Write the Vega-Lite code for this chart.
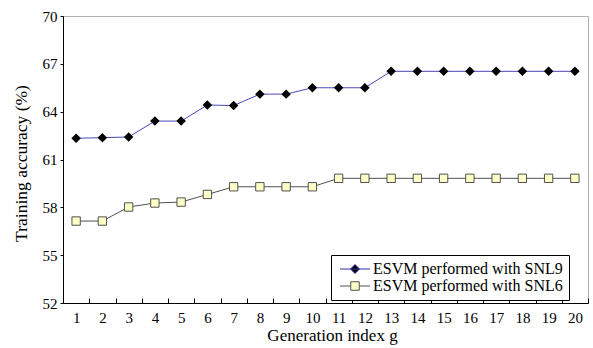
{
  "$schema": "https://vega.github.io/schema/vega-lite/v6.json",
  "width": 525,
  "height": 287,
  "autosize": "none",
  "padding": {"left": 63, "top": 16, "right": 5, "bottom": 45},
  "background": "white",
  "config": {
    "font": "Liberation Serif",
    "view": {"stroke": "#b0b0b0", "strokeWidth": 1},
    "axis": {"labelFont": "Liberation Serif", "titleFont": "Liberation Serif", "labelFontSize": 15, "titleFontSize": 17, "titleFontWeight": "normal", "labelColor": "black", "titleColor": "black", "domainColor": "black", "tickColor": "black", "grid": false}
  },
  "data": {"values": [
    {"g": 1, "acc": 62.33, "series": "ESVM performed with SNL9"},
    {"g": 2, "acc": 62.37, "series": "ESVM performed with SNL9"},
    {"g": 3, "acc": 62.41, "series": "ESVM performed with SNL9"},
    {"g": 4, "acc": 63.41, "series": "ESVM performed with SNL9"},
    {"g": 5, "acc": 63.41, "series": "ESVM performed with SNL9"},
    {"g": 6, "acc": 64.42, "series": "ESVM performed with SNL9"},
    {"g": 7, "acc": 64.38, "series": "ESVM performed with SNL9"},
    {"g": 8, "acc": 65.1, "series": "ESVM performed with SNL9"},
    {"g": 9, "acc": 65.1, "series": "ESVM performed with SNL9"},
    {"g": 10, "acc": 65.5, "series": "ESVM performed with SNL9"},
    {"g": 11, "acc": 65.5, "series": "ESVM performed with SNL9"},
    {"g": 12, "acc": 65.5, "series": "ESVM performed with SNL9"},
    {"g": 13, "acc": 66.53, "series": "ESVM performed with SNL9"},
    {"g": 14, "acc": 66.53, "series": "ESVM performed with SNL9"},
    {"g": 15, "acc": 66.53, "series": "ESVM performed with SNL9"},
    {"g": 16, "acc": 66.53, "series": "ESVM performed with SNL9"},
    {"g": 17, "acc": 66.53, "series": "ESVM performed with SNL9"},
    {"g": 18, "acc": 66.53, "series": "ESVM performed with SNL9"},
    {"g": 19, "acc": 66.53, "series": "ESVM performed with SNL9"},
    {"g": 20, "acc": 66.53, "series": "ESVM performed with SNL9"},
    {"g": 1, "acc": 57.14, "series": "ESVM performed with SNL6"},
    {"g": 2, "acc": 57.14, "series": "ESVM performed with SNL6"},
    {"g": 3, "acc": 58.02, "series": "ESVM performed with SNL6"},
    {"g": 4, "acc": 58.27, "series": "ESVM performed with SNL6"},
    {"g": 5, "acc": 58.33, "series": "ESVM performed with SNL6"},
    {"g": 6, "acc": 58.81, "series": "ESVM performed with SNL6"},
    {"g": 7, "acc": 59.29, "series": "ESVM performed with SNL6"},
    {"g": 8, "acc": 59.29, "series": "ESVM performed with SNL6"},
    {"g": 9, "acc": 59.29, "series": "ESVM performed with SNL6"},
    {"g": 10, "acc": 59.29, "series": "ESVM performed with SNL6"},
    {"g": 11, "acc": 59.82, "series": "ESVM performed with SNL6"},
    {"g": 12, "acc": 59.82, "series": "ESVM performed with SNL6"},
    {"g": 13, "acc": 59.82, "series": "ESVM performed with SNL6"},
    {"g": 14, "acc": 59.82, "series": "ESVM performed with SNL6"},
    {"g": 15, "acc": 59.82, "series": "ESVM performed with SNL6"},
    {"g": 16, "acc": 59.82, "series": "ESVM performed with SNL6"},
    {"g": 17, "acc": 59.82, "series": "ESVM performed with SNL6"},
    {"g": 18, "acc": 59.82, "series": "ESVM performed with SNL6"},
    {"g": 19, "acc": 59.82, "series": "ESVM performed with SNL6"},
    {"g": 20, "acc": 59.82, "series": "ESVM performed with SNL6"}
  ]},
  "encoding": {
    "x": {"field": "g", "type": "ordinal", "scale": {"type": "band", "paddingInner": 0, "paddingOuter": 0},
      "axis": {"title": "Generation index g", "labelAngle": 0, "tickBand": "extent", "tickSize": -5, "labelPadding": 12, "titlePadding": 2, "titleX": 269}},
    "y": {"field": "acc", "type": "quantitative", "scale": {"domain": [52, 70], "nice": false, "zero": false},
      "axis": {"title": "Training accuracy (%)", "values": [52, 55, 58, 61, 64, 67, 70], "tickSize": 3, "labelPadding": 3, "titlePadding": 12, "titleFontSize": 17.5, "titleY": 147}}
  },
  "layer": [
    {
      "transform": [{"filter": "datum.series === 'ESVM performed with SNL9'"}],
      "mark": {"type": "line", "strokeWidth": 1, "color": "#4848b8"},
      "encoding": {}
    },
    {
      "transform": [{"filter": "datum.series === 'ESVM performed with SNL6'"}],
      "mark": {"type": "line", "strokeWidth": 1, "color": "#505050"},
      "encoding": {}
    },
    {
      "transform": [{"filter": "datum.series === 'ESVM performed with SNL9'"}],
      "mark": {"type": "point", "shape": "diamond", "filled": true, "color": "black", "size": 90, "opacity": 1}
    },
    {
      "transform": [{"filter": "datum.series === 'ESVM performed with SNL6'"}],
      "mark": {"type": "point", "shape": "square", "filled": false, "fill": "#ffffc8", "stroke": "#505050", "strokeWidth": 1, "size": 70, "opacity": 1, "fillOpacity": 1}
    },
    {
      "mark": {"type": "point", "strokeWidth": 1, "opacity": 0},
      "encoding": {
        "shape": {"field": "series", "type": "nominal", "scale": {"domain": ["ESVM performed with SNL9", "ESVM performed with SNL6"], "range": ["M-1,0H5M2,-0.9L2.9,0L2,0.9L1.1,0Z", "M-1,0H1.15M2.85,0H5M1.15,-0.85H2.85V0.85H1.15Z"]},
          "legend": {"title": null, "orient": "none", "legendX": 268, "legendY": 239, "direction": "vertical", "symbolSize": 100, "symbolOpacity": 1, "symbolStrokeWidth": 1, "labelFont": "Liberation Serif", "labelFontSize": 16, "labelColor": "black", "labelOffset": 20, "padding": 6, "strokeColor": "black", "fillColor": "white", "rowPadding": 1, "labelLimit": 400}},
        "fill": {"field": "series", "type": "nominal", "scale": {"domain": ["ESVM performed with SNL9", "ESVM performed with SNL6"], "range": ["black", "#ffffc8"]}},
        "stroke": {"field": "series", "type": "nominal", "scale": {"domain": ["ESVM performed with SNL9", "ESVM performed with SNL6"], "range": ["#3030a0", "#505050"]}}
      }
    }
  ]
}
